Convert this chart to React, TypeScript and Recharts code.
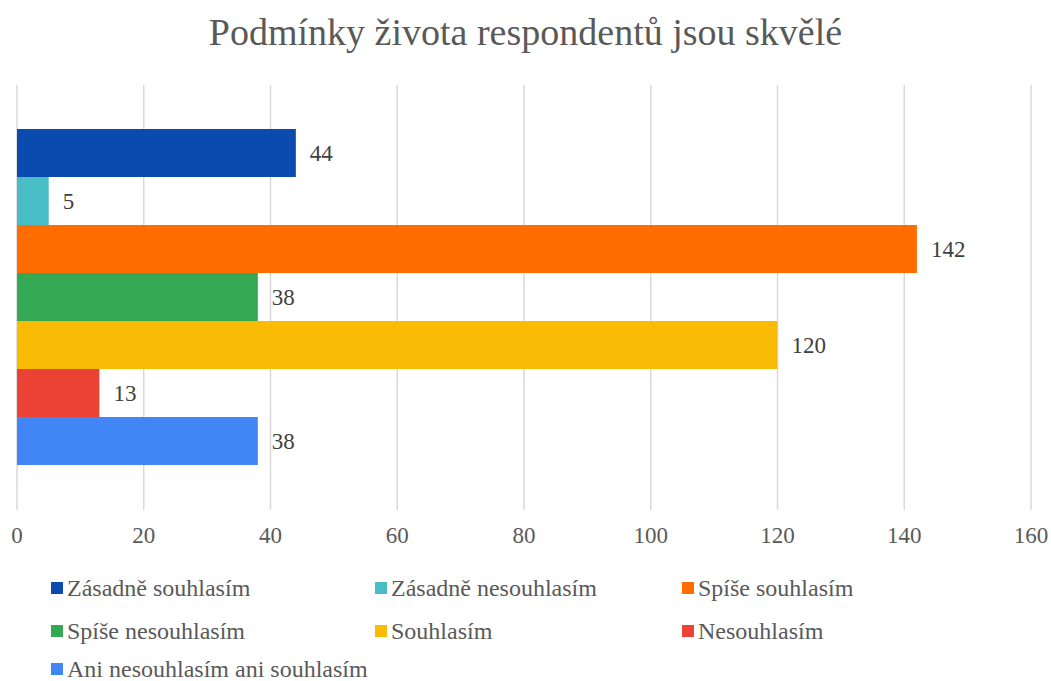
import { BarChart, Bar, XAxis, YAxis, CartesianGrid, Legend, LabelList } from 'recharts';

const title = 'Podmínky života respondentů jsou skvělé';
const seriesNames = [
  'Zásadně souhlasím',
  'Zásadně nesouhlasím',
  'Spíše souhlasím',
  'Spíše nesouhlasím',
  'Souhlasím',
  'Nesouhlasím',
  'Ani nesouhlasím ani souhlasím',
];
const seriesValues = [44, 5, 142, 38, 120, 13, 38];
const seriesColors = ['#0B4AAE', '#48BDC6', '#FF6D00', '#34A853', '#F9BB04', '#EA4335', '#4285F4'];
const xTicks = [0, 20, 40, 60, 80, 100, 120, 140, 160];

const FONT = '"Liberation Serif", "Times New Roman", serif';

// one category row holding all seven series
const row: Record<string, string | number> = { name: '' };
seriesNames.forEach((n, i) => { row[`s${i}`] = seriesValues[i]; });
const data = [row];

// legend wrapper already sits at margin.left (17px)
function LegendBox() {
  const colLeft = [34, 358, 665];
  const rowTop = [16, 59, 97];
  return (
    <div style={{ position: 'relative', width: 1014, height: 120, fontFamily: FONT, fontSize: 24, color: '#595959' }}>
      {seriesNames.map((n, i) => (
        <div
          key={n}
          style={{
            position: 'absolute',
            left: colLeft[i % 3],
            top: rowTop[Math.floor(i / 3)],
            display: 'flex',
            alignItems: 'center',
            whiteSpace: 'nowrap',
            lineHeight: '24px',
          }}
        >
          <span style={{ display: 'inline-block', width: 12, height: 12, background: seriesColors[i], marginRight: 4 }} />
          {n}
        </div>
      ))}
    </div>
  );
}

export default function App() {
  return (
    <div style={{ position: 'absolute', left: 0, top: 0, width: 1051, height: 681, background: '#fff', overflow: 'hidden' }}>
      <div
        style={{
          position: 'absolute', left: 0, top: 9, width: 1051, textAlign: 'center',
          fontFamily: FONT, fontSize: 38, color: '#595959', lineHeight: '46px',
        }}
      >
        {title}
      </div>
      <BarChart
        width={1051}
        height={681}
        data={data}
        layout="vertical"
        margin={{ top: 85, right: 20, bottom: 1, left: 17 }}
        barGap={0}
        barCategoryGap={44}
      >
        <CartesianGrid horizontal={false} stroke="#D9D9D9" strokeWidth={1.5} />
        <XAxis
          type="number"
          domain={[0, 160]}
          ticks={xTicks}
          axisLine={false}
          tickLine={false}
          height={50}
          tick={{ fontSize: 23, fill: '#595959', fontFamily: FONT }}
          tickMargin={11}
          interval={0}
        />
        <YAxis type="category" dataKey="name" hide />
        <Legend verticalAlign="bottom" content={() => <LegendBox />} />
        {seriesNames.map((n, i) => (
          <Bar key={n} dataKey={`s${i}`} name={n} fill={seriesColors[i]} isAnimationActive={false}>
            <LabelList
              dataKey={`s${i}`}
              position="right"
              offset={14}
              style={{ fontSize: 23, fill: '#404040', fontFamily: FONT }}
            />
          </Bar>
        ))}
      </BarChart>
    </div>
  );
}
